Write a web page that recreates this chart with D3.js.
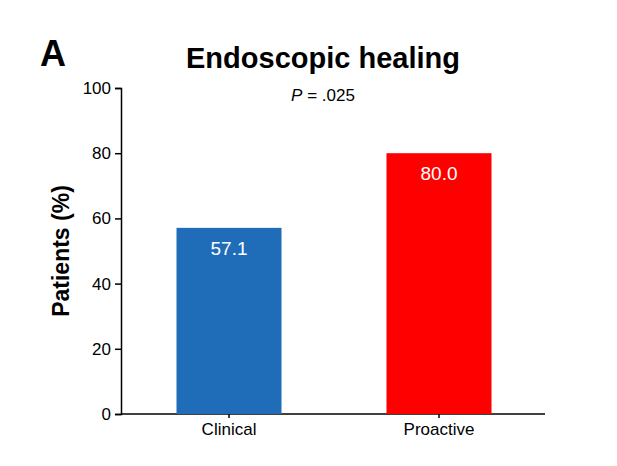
<!DOCTYPE html>
<html><head><meta charset="utf-8">
<script src="https://cdn.jsdelivr.net/npm/d3@7"></script>
<style>body{margin:0;background:#fff}text{font-family:Arial,"Liberation Sans",sans-serif}</style>
</head><body>
<svg id="c" width="617" height="466"></svg>
<script>
const categories = ["Clinical", "Proactive"];
const values = [57.1, 80.0];
const colors = ["#1f6db8", "#ff0000"];
const yTicks = [0, 20, 40, 60, 80, 100];

const svg = d3.select("#c");
const y = d3.scaleLinear().domain([0, 100]).range([414, 88]);
const x = d3.scaleBand().domain(categories).range([124, 544]).paddingInner(0.5).paddingOuter(0.25);

const ya = svg.append("g").attr("transform", "translate(121,0)")
  .call(d3.axisLeft(y).tickValues(yTicks).tickSize(6).tickPadding(4));
ya.selectAll("text").style("font-size", "17px").attr("fill", "#000");
ya.selectAll("line,path").attr("stroke", "#000").attr("stroke-width", 1.5);

const xa = svg.append("g").attr("transform", "translate(0,414)")
  .call(d3.axisBottom(x).tickSize(4).tickPadding(5));
xa.select(".domain").attr("d", "M121,0H545");
xa.selectAll("text").style("font-size", "17px").attr("fill", "#000");
xa.selectAll("line,path").attr("stroke", "#000").attr("stroke-width", 1.5);

svg.selectAll("rect.bar").data(values).join("rect")
  .attr("x", (d, i) => x(categories[i])).attr("width", x.bandwidth())
  .attr("y", d => y(d)).attr("height", d => y(0) - y(d))
  .attr("fill", (d, i) => colors[i]);

svg.selectAll("text.val").data(values).join("text")
  .attr("x", (d, i) => x(categories[i]) + x.bandwidth() / 2)
  .attr("y", d => y(d) + 27).attr("text-anchor", "middle")
  .attr("fill", "#fff").style("font-size", "19px").text(d => d.toFixed(1));

svg.append("text").attr("x", 40).attr("y", 66).style("font-size", "36px").style("font-weight", "bold").text("A");
svg.append("text").attr("x", 323).attr("y", 68).attr("text-anchor", "middle").style("font-size", "29px").style("font-weight", "bold").text("Endoscopic healing");
const p = svg.append("text").attr("x", 323).attr("y", 101).attr("text-anchor", "middle").style("font-size", "17px");
p.append("tspan").style("font-style", "italic").text("P");
p.append("tspan").text(" = .025");
svg.append("text").attr("transform", "translate(69,251) rotate(-90)").attr("text-anchor", "middle")
  .style("font-size", "23px").style("font-weight", "bold").text("Patients (%)");
</script>
</body></html>
